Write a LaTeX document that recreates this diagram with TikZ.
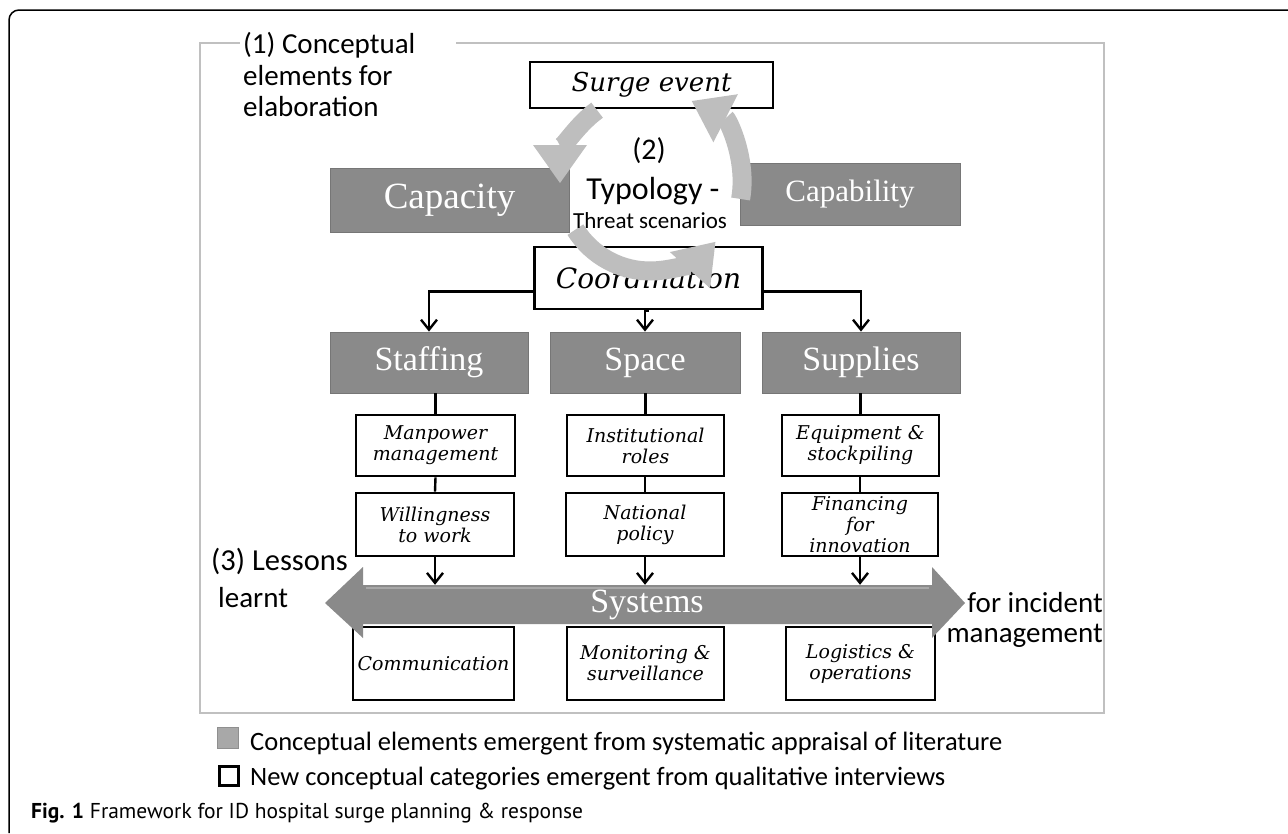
\documentclass[tikz,border=0pt]{standalone}
\usepackage{fontspec}
\setmainfont{Carlito}
\newfontfamily\serifw{Liberation Serif}
\newfontfamily\handf{DejaVu Serif}
\newfontfamily\capf{PT Sans}
\usetikzlibrary{arrows.meta}
\definecolor{boxgray}{RGB}{138,138,138}
\definecolor{boxedge}{RGB}{118,118,118}
\definecolor{boxhi}{RGB}{168,168,168}
\definecolor{cyclegray}{RGB}{190,190,190}
\definecolor{framegray}{RGB}{192,192,192}
\definecolor{leggray}{RGB}{168,168,168}
\begin{document}
\begin{tikzpicture}[x=1pt,y=1pt,
  graybox/.style={fill=boxgray, draw=boxedge, line width=0.8pt, text=white, inner sep=0pt,
    append after command={\pgfextra{\draw[boxhi, line width=2pt] ([xshift=1.5pt,yshift=-1.5pt]\tikzlastnode.north west) -- ([xshift=-1.5pt,yshift=-1.5pt]\tikzlastnode.north east);}}},
  wbox/.style={draw=black, line width=2.6pt, fill=white, inner sep=0pt, align=center, font=\handf\itshape\fontsize{19}{21}\selectfont},
  conn/.style={line width=2.4pt, -{Straight Barb[length=10pt,width=16pt]}},
  link/.style={line width=2.4pt},
  cyc/.style={draw=cyclegray, line width=19pt, -{Triangle[length=38pt,width=54pt,line width=0pt]}},
  lbl/.style={inner sep=0pt, font=\fontsize{29}{31}\selectfont},
  legtxt/.style={inner sep=0pt, anchor=base west, font=\fontsize{26.5}{30}\selectfont},
]
\useasboundingbox (0,0) rectangle (1288,-833);

% outer frame
\draw[line width=1.5pt, rounded corners=10pt] (9,-833) -- (9,-10) -- (1288,-10);
% inner frame with gap for label
\draw[framegray, line width=2.5pt] (456,-43) -- (1104,-43) -- (1104,-713) -- (200,-713) -- (200,-43) -- (240,-43);

% label (1)
\node[lbl, anchor=base west] (l1a) at (243,-53) {(1) Conceptual};
\node[lbl, anchor=base west] (l1b) at (243,-85) {elements for};
\node[lbl, anchor=base west] (l1c) at (243,-116) {elaboration};

% top boxes
\node[wbox, minimum width=243, minimum height=46, font=\handf\itshape\fontsize{26}{30}\selectfont] (surge) at (651.5,-85) {Surge event};
\node[graybox, minimum width=239, minimum height=64, font=\serifw\fontsize{37}{42}\selectfont] (capacity) at (449.5,-200) {Capacity};
\node[graybox, minimum width=220, minimum height=62, font=\serifw\fontsize{31}{36}\selectfont] (capability) at (850,-194) {Capability};
\node[wbox, minimum width=228, minimum height=62, font=\handf\itshape\fontsize{28}{32}\selectfont] (coord) at (648.5,-278) {Coordination};

% three pillars
\node[graybox, minimum width=198, minimum height=61, font=\serifw\fontsize{34}{40}\selectfont] (staffing) at (429,-362.5) {Staffing};
\node[graybox, minimum width=190, minimum height=61, font=\serifw\fontsize{34}{40}\selectfont] (space) at (645,-362.5) {Space};
\node[graybox, minimum width=198, minimum height=61, font=\serifw\fontsize{34}{40}\selectfont] (supplies) at (861,-362.5) {Supplies};

% sub boxes
\node[wbox, minimum width=159, minimum height=61] (manpower) at (435.5,-445.5) {Manpower\\management};
\node[wbox, minimum width=157, minimum height=61] (institutional) at (645.5,-445.5) {Institutional\\roles};
\node[wbox, minimum width=157, minimum height=61] (equipment) at (860.5,-445.5) {Equipment \&\\stockpiling};
\node[wbox, minimum width=158, minimum height=63] (willingness) at (435,-524.5) {Willingness\\to work};
\node[wbox, minimum width=158, minimum height=63] (national) at (645,-524.5) {National\\policy};
\node[wbox, minimum width=156, minimum height=63] (financing) at (860,-524.5) {Financing\\for\\innovation};
\node[wbox, minimum width=161, minimum height=73] (communication) at (433.5,-663.5) {Communication};
\node[wbox, minimum width=157, minimum height=73] (monitoring) at (645.5,-663.5) {Monitoring \&\\surveillance};
\node[wbox, minimum width=149, minimum height=73] (logistics) at (860.5,-663.5) {Logistics \&\\operations};

% connectors from coordination
\draw[conn] ([yshift=-13.5pt]coord.west) -| (staffing.north);
\draw[conn] ([yshift=-13.5pt]coord.east) -| (supplies.north);
\draw[conn] (coord.south) -- (coord.south -| space.north) -- (space.north);
% pillar links
\draw[link] (manpower.north) -- (manpower.north |- staffing.south);
\draw[link] (institutional.north) -- (institutional.north |- space.south);
\draw[link] (equipment.north) -- (equipment.north |- supplies.south);
\draw[link] (willingness.north) -- (manpower.south);
\draw[link] (national.north) -- (national.north |- institutional.south);
\draw[link] (financing.north) -- (financing.north |- equipment.south);

% Systems double arrow
\fill[boxgray] (325,-603) -- (363,-567) -- (363,-585) -- (932,-585) -- (932,-567) -- (965,-603) -- (932,-638) -- (932,-624) -- (363,-624) -- (363,-638) -- cycle;
\draw[boxhi, line width=2pt] (366,-588) -- (929,-588);
\node[inner sep=0pt, minimum width=570, minimum height=39, text=white, font=\serifw\fontsize{34}{40}\selectfont] (sys) at (647,-604.5) {Systems};
\draw[conn] (willingness.south) -- (willingness.south |- sys.north);
\draw[conn] (national.south) -- (national.south |- sys.north);
\draw[conn] (financing.south) -- (financing.south |- sys.north);

% cycle arrows
\begin{scope}[shift={(650,-183)}]
\draw[cyc] (126:90) arc[start angle=126, end angle=180, radius=90];
\draw[cyc] (-10:92) arc[start angle=-10, end angle=63, radius=92];
\draw[cyc] (212:88) arc[start angle=212, end angle=318, radius=88];
\end{scope}

% typology text
\node[inner sep=0pt, anchor=base, font=\fontsize{30}{34}\selectfont] (t2) at (649,-159) {(2)};
\node[inner sep=0pt, anchor=base, font=\fontsize{32}{36}\selectfont] (typ) at (653,-199) {Typology -};
\node[inner sep=0pt, anchor=base, font=\fontsize{23}{26}\selectfont] (threat) at (650,-228) {Threat scenarios};

% lessons labels
\node[lbl, anchor=base west, font=\fontsize{30.5}{33}\selectfont] (l3a) at (211,-570) {(3) Lessons};
\node[lbl, anchor=base west] (l3b) at (218,-607) {learnt};
\node[lbl, anchor=base east] (r3a) at (1103,-612) {for incident};
\node[lbl, anchor=base east] (r3b) at (1103,-642) {management};

% legend
\node[fill=leggray, draw=leggray!85!black, line width=0.6pt, minimum size=21, inner sep=0pt] (legg) at (228,-737.5) {};
\node[draw=black, fill=white, line width=3pt, minimum size=19, inner sep=0pt] (legw) at (228.5,-775.5) {};
\node[legtxt] (legt1) at (250,-750) {Conceptual elements emergent from systematic appraisal of literature};
\node[legtxt] (legt2) at (250,-785) {New conceptual categories emergent from qualitative interviews};

% caption
\node[inner sep=0pt, anchor=base west, font=\capf\fontsize{21.5}{25}\selectfont] (cap) at (31,-818) {\textbf{Fig. 1} Framework for ID hospital surge planning \& response};
\end{tikzpicture}
\end{document}
